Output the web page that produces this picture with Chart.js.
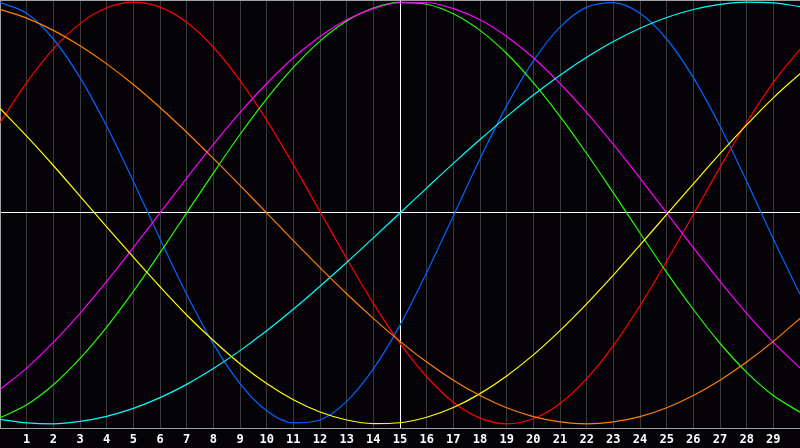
<!DOCTYPE html>
<html>
<head>
<meta charset="utf-8">
<script src="https://cdn.jsdelivr.net/npm/chart.js@4.4.1/dist/chart.umd.min.js"></script>
<style>
    html, body { margin: 0; padding: 0; background: #050308; }
    #wrap { width: 800px; height: 448px; }
</style>
</head>
<body>
<div id="wrap"><canvas id="cycleChart" width="800" height="448"></canvas></div>
<script>
// day axis
var days = [0,1,2,3,4,5,6,7,8,9,10,11,12,13,14,15,16,17,18,19,20,21,22,23,24,25,26,27,28,29,30];
var tickDays = [1,2,3,4,5,6,7,8,9,10,11,12,13,14,15,16,17,18,19,20,21,22,23,24,25,26,27,28,29];

// curve values, -1 .. 1
var blueVals = [0.998,0.947,0.825,0.642,0.412,0.150,-0.123,-0.386,-0.621,-0.809,-0.938,-0.996,-0.982,-0.894,-0.740,-0.532,-0.283,-0.014,0.257,0.508,0.721,0.881,0.976,0.998,0.947,0.825,0.642,0.412,0.150,-0.123,-0.386];
var redVals = [0.428,0.618,0.778,0.898,0.973,1.000,0.976,0.904,0.786,0.629,0.440,0.229,0.007,-0.216,-0.429,-0.619,-0.777,-0.898,-0.973,-1.000,-0.976,-0.904,-0.786,-0.629,-0.440,-0.229,-0.007,0.216,0.429,0.619,0.777];
var greenVals = [-0.972,-0.910,-0.815,-0.690,-0.541,-0.372,-0.189,0.000,0.189,0.372,0.541,0.690,0.815,0.910,0.972,0.999,0.990,0.945,0.866,0.756,0.618,0.458,0.282,0.095,-0.095,-0.282,-0.458,-0.618,-0.756,-0.866,-0.945];
var magentaVals = [-0.837,-0.736,-0.614,-0.476,-0.325,-0.165,0.000,0.165,0.325,0.476,0.614,0.736,0.837,0.916,0.969,0.997,0.997,0.969,0.916,0.837,0.736,0.614,0.476,0.325,0.165,0.000,-0.165,-0.325,-0.476,-0.614,-0.736];
var cyanVals = [-0.979,-0.996,-1.000,-0.989,-0.965,-0.927,-0.876,-0.813,-0.738,-0.653,-0.559,-0.457,-0.348,-0.235,-0.118,0.000,0.118,0.235,0.348,0.457,0.559,0.653,0.738,0.813,0.876,0.927,0.965,0.989,1.000,0.996,0.979];
var orangeVals = [0.966,0.924,0.866,0.793,0.707,0.609,0.500,0.383,0.259,0.131,0.000,-0.131,-0.259,-0.383,-0.500,-0.609,-0.707,-0.793,-0.866,-0.924,-0.966,-0.991,-1.000,-0.991,-0.966,-0.924,-0.866,-0.793,-0.707,-0.609,-0.500];
var yellowVals = [0.496,0.364,0.225,0.080,-0.066,-0.210,-0.350,-0.484,-0.605,-0.715,-0.809,-0.886,-0.944,-0.982,-0.999,-0.995,-0.969,-0.923,-0.857,-0.773,-0.673,-0.558,-0.431,-0.295,-0.153,-0.007,0.138,0.281,0.418,0.546,0.661];

var series = [
    { name: 'orange', vals: orangeVals, color: '#ff8000' },
    { name: 'cyan', vals: cyanVals, color: '#00ffff' },
    { name: 'yellow', vals: yellowVals, color: '#ffff00' },
    { name: 'magenta', vals: magentaVals, color: '#ff00ff' },
    { name: 'green', vals: greenVals, color: '#22ff00' },
    { name: 'red', vals: redVals, color: '#ff0000' },
    { name: 'blue', vals: blueVals, color: '#0066ff' }
];

function toPoints(vals) {
    return days.map(function(d, i) { return { x: d, y: vals[i] }; });
}

var ctx = document.getElementById('cycleChart').getContext('2d');
var chart = new Chart(ctx, {
    type: 'line',
    data: {
        datasets: series.map(function(s) {
            return {
                label: s.name,
                data: toPoints(s.vals),
                borderColor: s.color,
                borderWidth: 1.2,
                pointRadius: 0,
                cubicInterpolationMode: 'monotone',
                fill: false
            };
        })
    },
    options: {
        responsive: false,
        animation: false,
        layout: { padding: 0 },
        plugins: {
            legend: { display: false },
            tooltip: { enabled: false }
        },
        scales: {
            x: {
                type: 'linear',
                min: 0,
                max: 30,
                afterFit: function(scale) { scale.height = 20; },
                afterBuildTicks: function(scale) {
                    scale.ticks = tickDays.map(function(d) { return { value: d }; });
                },
                grid: {
                    color: function(c) { return c.tick && c.tick.value === 15 ? '#ffffff' : '#3a3a3a'; },
                    lineWidth: 1,
                    drawTicks: false
                },
                border: { color: '#a0a0a0', width: 1 },
                ticks: {
                    color: '#ffffff',
                    padding: 5,
                    maxRotation: 0,
                    autoSkip: false,
                    font: { family: 'DejaVu Sans Mono', size: 12, weight: 'bold' }
                }
            },
            y: {
                min: -1.02,
                max: 1.01,
                afterFit: function(scale) { scale.width = 0; },
                afterBuildTicks: function(scale) {
                    scale.ticks = [{ value: 0 }, { value: 1.01 }];
                },
                grid: {
                    color: function(c) { return c.tick && c.tick.value === 0 ? '#ffffff' : '#a0a0a0'; },
                    drawTicks: false
                },
                border: { color: '#a0a0a0', width: 1 },
                ticks: { display: false }
            }
        }
    }
});
</script>
</body>
</html>
